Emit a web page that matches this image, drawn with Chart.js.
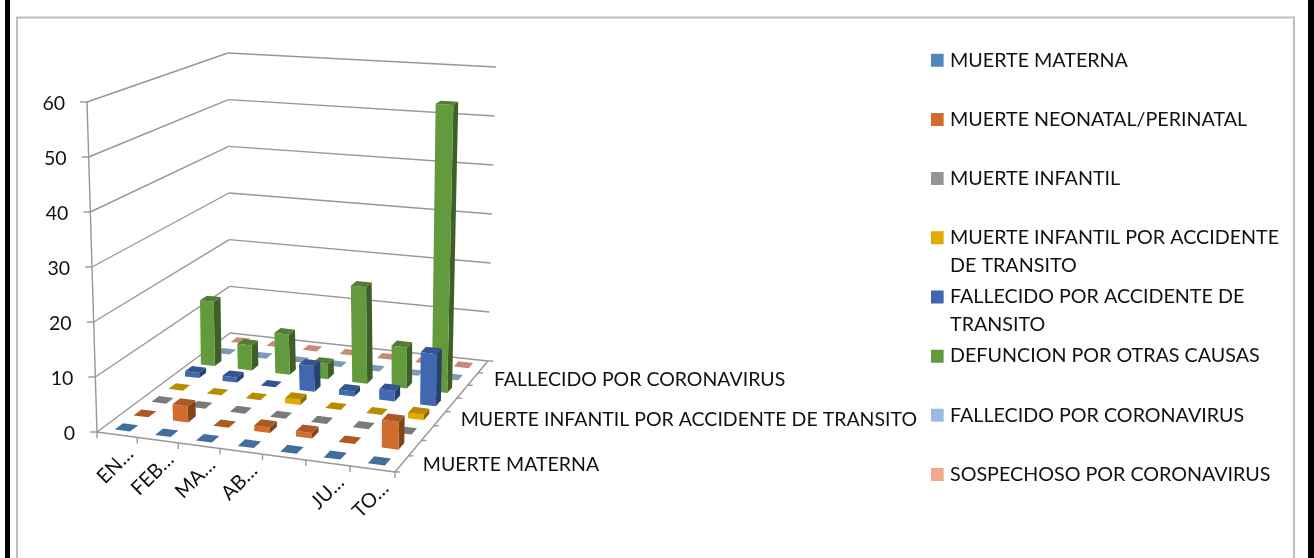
<!DOCTYPE html>
<html><head><meta charset="utf-8">
<style>html,body{margin:0;padding:0;background:#fff;overflow:hidden}canvas{display:block}</style>
<script src="https://cdn.jsdelivr.net/npm/chart.js@4"></script>
</head><body><canvas id="c" width="1314" height="558"></canvas>
<script>
const categories = ['EN…','FEB…','MA…','AB…','','JU…','TO…'];
const seriesNames = ['MUERTE MATERNA','MUERTE NEONATAL/PERINATAL','MUERTE INFANTIL','MUERTE INFANTIL POR ACCIDENTE DE TRANSITO','FALLECIDO POR ACCIDENTE DE TRANSITO','DEFUNCION POR OTRAS CAUSAS','FALLECIDO POR CORONAVIRUS','SOSPECHOSO POR CORONAVIRUS'];
const muerteMaterna    = [0,0,0,0,0,0,0];
const muerteNeonatal   = [0,3,0,1,1,0,5];
const muerteInfantil   = [0,0,0,0,0,0,0];
const infantilAccidente= [0,0,0,1,0,0,1];
const fallecidoAccidente=[1,1,0,5,1,2,10];
const defuncionOtras   = [13,5,8,3,19,8,56];
const fallecidoCorona  = [0,0,0,0,0,0,0];
const sospechosoCorona = [0,0,0,0,0,0,0];
const seriesValues = [muerteMaterna,muerteNeonatal,muerteInfantil,infantilAccidente,fallecidoAccidente,defuncionOtras,fallecidoCorona,sospechosoCorona];
const seriesColors = ['#4F86BE','#D26C2C','#959595','#E3AA00','#3F68B0','#649A3E','#9ABBE0','#F2A88B'];
const legendLines = [['MUERTE MATERNA',''],['MUERTE NEONATAL/PERINATAL',''],['MUERTE INFANTIL',''],['MUERTE INFANTIL POR ACCIDENTE','DE TRANSITO'],['FALLECIDO POR ACCIDENTE DE','TRANSITO'],['DEFUNCION POR OTRAS CAUSAS',''],['FALLECIDO POR CORONAVIRUS',''],['SOSPECHOSO POR CORONAVIRUS','']];
const depthLabelIdx = [0,3,6];
const FONT = 'Lato';
const TXT = '#111';
const GRID = '#979797';

// view calibration of the 3D box (screen corners of floor and of the top plane)
const floorQ = [[97,432],[395,472],[488,361],[230,333]];
const topQ   = [[87,102],[400,132],[496,67],[228,53]];
function homography(q){
  const [p0,p1,p2,p3]=q;
  const dx1=p1[0]-p2[0],dx2=p3[0]-p2[0],sx=p0[0]-p1[0]+p2[0]-p3[0];
  const dy1=p1[1]-p2[1],dy2=p3[1]-p2[1],sy=p0[1]-p1[1]+p2[1]-p3[1];
  const d=dx1*dy2-dx2*dy1;
  const g=(sx*dy2-dx2*sy)/d,h=(dx1*sy-sx*dy1)/d;
  const a=p1[0]-p0[0]+g*p1[0],b=p3[0]-p0[0]+h*p3[0],c=p0[0];
  const e=p1[1]-p0[1]+g*p1[1],f=p3[1]-p0[1]+h*p3[1],k=p0[1];
  return (u,v)=>{const w=g*u+h*v+1;return [(a*u+b*v+c)/w,(e*u+f*v+k)/w];};
}
const Hf=homography(floorQ),Ht=homography(topQ);
function darken(hex,m){const n=parseInt(hex.slice(1),16);
  return `rgb(${Math.round((n>>16&255)*m)},${Math.round((n>>8&255)*m)},${Math.round((n&255)*m)})`;}

const bar3d={
  id:'bar3d',
  beforeDraw(chart){
    const ctx=chart.ctx;
    ctx.save();
    ctx.fillStyle='#000';
    ctx.fillRect(5,0,5,558);ctx.fillRect(1308,0,6,558);
    ctx.strokeStyle='#bdbdbd';ctx.lineWidth=2;
    ctx.beginPath();ctx.moveTo(17,558);ctx.lineTo(17,17.5);ctx.lineTo(1294,17.5);ctx.lineTo(1294,558);ctx.stroke();
    ctx.restore();
    const lg=chart.legend;
    lg.left=931;lg.right=1292;lg.top=47.25;lg.bottom=556;
  },
  beforeDatasetDraw(){return false;},
  afterDatasetsDraw(chart){
    const ctx=chart.ctx,xs=chart.scales.x,ys=chart.scales.y,zs=chart.scales.z;
    const y0=ys.getPixelForValue(ys.min),y1=ys.getPixelForValue(ys.max);
    const fv=val=>(y0-ys.getPixelForValue(val))/(y0-y1);
    const P=(u,z,val)=>{const a=Hf(u,z),b=Ht(u,z),t=fv(val);return [a[0]+(b[0]-a[0])*t,a[1]+(b[1]-a[1])*t];};
    const uOf=i=>(xs.getPixelForValue(i)-xs.left)/xs.width;
    const zOf=s=>(zs.getPixelForValue(s)-zs.left)/zs.width;
    const cw=1/categories.length,cz=1/seriesNames.length;
    const line=(a,b)=>{ctx.beginPath();ctx.moveTo(a[0],a[1]);ctx.lineTo(b[0],b[1]);ctx.stroke();};
    const poly=(pts,col)=>{ctx.fillStyle=col;ctx.beginPath();pts.forEach((p,i)=>i?ctx.lineTo(p[0],p[1]):ctx.moveTo(p[0],p[1]));ctx.closePath();ctx.fill();};
    ctx.save();
    // walls
    ctx.strokeStyle=GRID;ctx.lineWidth=1.4;
    ys.ticks.forEach(t=>{
      const a=P(0,0,t.value),b=P(0,1,t.value),c=P(1,1,t.value);
      line(a,b);line(b,c);
      line([a[0]-7,a[1]],a);
      ctx.fillStyle=TXT;ctx.font='19.5px '+FONT;ctx.textAlign='right';ctx.textBaseline='middle';
      ctx.fillText(String(t.value),a[0]-22,a[1]+2);
    });
    line(P(0,0,0),P(0,0,ys.max));
    // floor edges & ticks
    line(P(0,0,0),P(1,0,0));line(P(1,0,0),P(1,1,0));
    for(let i=0;i<=categories.length;i++){const a=P(i*cw,0,0);line(a,[a[0],a[1]+6]);}
    for(let s=0;s<=seriesNames.length;s++){const a=P(1,s*cz,0);line(a,[a[0]+5,a[1]]);}
    // bars, back to front
    const bu=cw*0.19,bz=cz*0.22;
    for(let s=seriesNames.length-1;s>=0;s--){
      const ds=chart.data.datasets[s],col=ds.backgroundColor;
      for(let i=0;i<categories.length;i++){
        const v=ds.data[i],u=uOf(i),z=zOf(s);
        const fl=[P(u-bu,z-bz,0),P(u+bu,z-bz,0),P(u+bu,z+bz,0)];
        const tp=[P(u-bu,z-bz,v),P(u+bu,z-bz,v),P(u+bu,z+bz,v),P(u-bu,z+bz,v)];
        if(v>0){
          poly([fl[1],fl[2],tp[2],tp[1]],darken(col,0.62));
          poly([fl[0],fl[1],tp[1],tp[0]],col);
        }
        poly(tp,darken(col,0.82));
      }
    }
    // category labels
    ctx.fillStyle=TXT;ctx.font='20px '+FONT;
    categories.forEach((c,i)=>{
      const a=P(uOf(i),0,0);
      ctx.save();ctx.translate(a[0]+13,a[1]+16);ctx.rotate(-Math.PI/4);
      ctx.textAlign='right';ctx.textBaseline='middle';ctx.fillText(c,0,0);ctx.restore();
    });
    // depth labels
    ctx.font='19.5px '+FONT;ctx.textAlign='left';ctx.textBaseline='middle';
    depthLabelIdx.forEach(s=>{const a=P(1,zOf(s),0);ctx.fillText(seriesNames[s],a[0]+21,a[1]+1);});
    ctx.restore();
  }
};

new Chart(document.getElementById('c'),{
  type:'bar',
  data:{labels:categories,datasets:seriesNames.map((n,s)=>({label:n,data:seriesValues[s],backgroundColor:seriesColors[s]}))},
  options:{
    responsive:false,animation:false,devicePixelRatio:1,
    layout:{padding:{top:103,bottom:127,left:100,right:400}},
    scales:{
      x:{type:'category',display:false,offset:true},
      z:{type:'category',axis:'x',labels:seriesNames,display:false,offset:true},
      y:{type:'linear',min:0,max:60,display:false,ticks:{stepSize:10,autoSkip:false}}
    },
    plugins:{
      tooltip:{enabled:false},
      legend:{display:true,position:'right',align:'start',
        labels:{boxWidth:6,boxHeight:6,padding:3.15,color:TXT,font:{family:FONT,size:19.7,lineHeight:1.422},
          generateLabels:ch=>ch.data.datasets.map((d,i)=>({text:legendLines[i],fillStyle:d.backgroundColor,strokeStyle:d.backgroundColor,lineWidth:7,datasetIndex:i,fontColor:TXT}))}}
    }
  },
  plugins:[bar3d]
});
</script></body></html>
